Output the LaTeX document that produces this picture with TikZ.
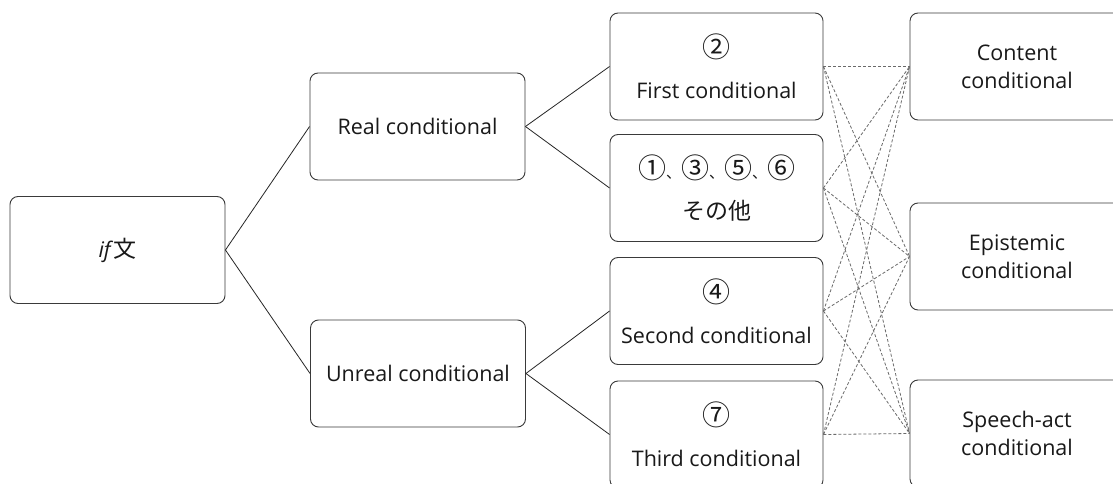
\documentclass[tikz,border=0pt]{standalone}
\usepackage{fontspec}
\setmainfont{Open Sans}
\newfontfamily\jpfont{Noto Sans CJK JP}
\newcommand{\cnum}[1]{{\jpfont\fontsize{28}{41}\selectfont #1}}
\newcommand{\jcomma}{{\jpfont\fontsize{15}{41}\selectfont 、}}
\definecolor{boxline}{HTML}{3A3A3A}
\definecolor{dashline}{HTML}{6A6A6A}
\begin{document}
\begin{tikzpicture}[x=1pt,y=-1pt,
  box/.style={draw=boxline, line width=0.9pt, rounded corners=8pt,
    minimum width=214pt, minimum height=107pt, inner sep=0pt,
    align=center, text=black!90},
  onefont/.style={font=\fontsize{21.5}{40}\selectfont},
  tallfont/.style={font=\fontsize{21.5}{41}\selectfont},
  tightfont/.style={font=\fontsize{21.5}{28}\selectfont},
  link/.style={draw=black!85, line width=0.8pt},
  cross/.style={draw=dashline, line width=0.8pt, dash pattern=on 3pt off 2pt}]
\clip (0,0) rectangle (1113,484);
\fill[white] (0,0) rectangle (1113,484);

% root and first split
\node[box, onefont, minimum width=215pt] (root) at (117.5,250) {\textit{if}{\jpfont\fontsize{23}{40}\selectfont 文}};
\node[box, onefont, minimum width=215pt] (real) at (417.5,126.5) {Real conditional};
\node[box, onefont, minimum width=215pt] (unreal) at (418,373.5) {Unreal conditional};

% sentence types
\node[box, tallfont, minimum width=213pt] (first) at (716.5,66.5) {\cnum{②}\\First conditional};
\node[box, tallfont, minimum width=213pt] (other) at (716.5,188) {\cnum{①}\jcomma\cnum{③}\jcomma\cnum{⑤}\jcomma\cnum{⑥}\\{\jpfont\fontsize{23}{41}\selectfont その他}};
\node[box, tallfont, minimum width=213pt] (second) at (716.5,311) {\cnum{④}\\Second conditional};
\node[box, tallfont, minimum width=213pt] (third) at (716.5,434.5) {\cnum{⑦}\\Third conditional};

% semantic domains
\node[box, tightfont] (content) at (1017,66.5) {Content\\conditional};
\node[box, tightfont] (epistemic) at (1017,256.5) {Epistemic\\conditional};
\node[box, tightfont] (speech) at (1017,433.5) {Speech-act\\conditional};

% tree branches
\draw[link] (root.east) -- (real.west);
\draw[link] (root.east) -- (unreal.west);
\draw[link] (real.east) -- (first.west);
\draw[link] (real.east) -- (other.west);
\draw[link] (unreal.east) -- (second.west);
\draw[link] (unreal.east) -- (third.west);

% every type may carry every reading
\foreach \a in {first,other,second,third}
  \foreach \b in {content,epistemic,speech}
    \draw[cross] (\a.east) -- (\b.west);
\end{tikzpicture}
\end{document}
